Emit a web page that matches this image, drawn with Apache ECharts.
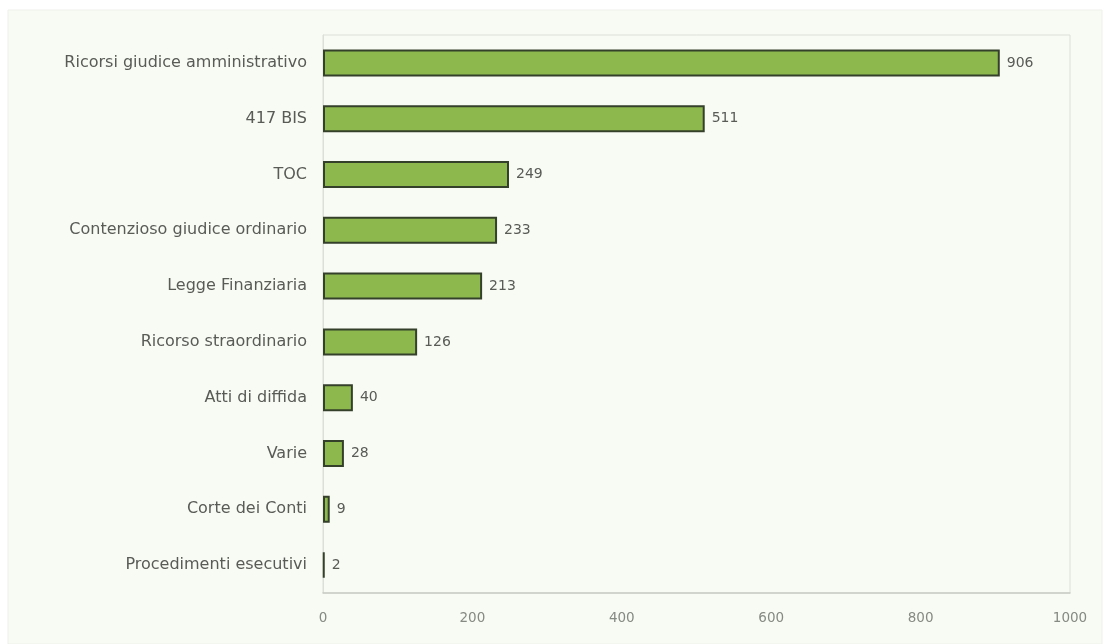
<!DOCTYPE html>
<html>
<head>
<meta charset="utf-8">
<script src="https://cdn.jsdelivr.net/npm/echarts@6/dist/echarts.min.js"></script>
<style>
html,body{margin:0;padding:0;background:#ffffff;}
#c{width:1108px;height:644px;}
</style>
</head>
<body>
<div id="c"></div>
<script>
const categories = [
  "Ricorsi giudice amministrativo",
  "417 BIS",
  "TOC",
  "Contenzioso giudice ordinario",
  "Legge Finanziaria",
  "Ricorso straordinario",
  "Atti di diffida",
  "Varie",
  "Corte dei Conti",
  "Procedimenti esecutivi"
];
const values = [906, 511, 249, 233, 213, 126, 40, 28, 9, 2];
const xTicks = [0, 200, 400, 600, 800, 1000];

const chart = echarts.init(document.getElementById('c'), null, {renderer: 'canvas'});
const font = 'DejaVu Sans';
chart.setOption({
  backgroundColor: '#ffffff',
  animation: false,
  graphic: [{
    type: 'rect', z: -10, silent: true,
    shape: {x: 8, y: 10, width: 1094, height: 634},
    style: {fill: '#f8faf4', stroke: '#eef1ea', lineWidth: 1}
  }],
  grid: {left: 323, right: 38, top: 35, bottom: 51, show: true, borderColor: '#dcdfd8', borderWidth: 1, backgroundColor: 'transparent'},
  xAxis: {
    type: 'value', min: xTicks[0], max: xTicks[xTicks.length - 1], interval: 200,
    axisLine: {show: true, lineStyle: {color: '#c8ccc4', width: 1.5}},
    axisTick: {show: false},
    splitLine: {show: false},
    axisLabel: {color: '#858a82', fontFamily: font, fontSize: 13.5, margin: 18, formatter: v => String(v)}
  },
  yAxis: {
    type: 'category', data: categories, inverse: true,
    axisLine: {show: true, lineStyle: {color: '#dcdfd8'}},
    axisTick: {show: false},
    axisLabel: {color: '#585b56', fontFamily: font, fontSize: 16, margin: 16}
  },
  series: [{
    type: 'bar', data: values, barWidth: 27,
    itemStyle: {color: '#8db84e', borderColor: '#34402a', borderWidth: 2},
    label: {show: true, position: 'right', distance: 7, color: '#585b56', fontFamily: font, fontSize: 14}
  }]
});
</script>
</body>
</html>
